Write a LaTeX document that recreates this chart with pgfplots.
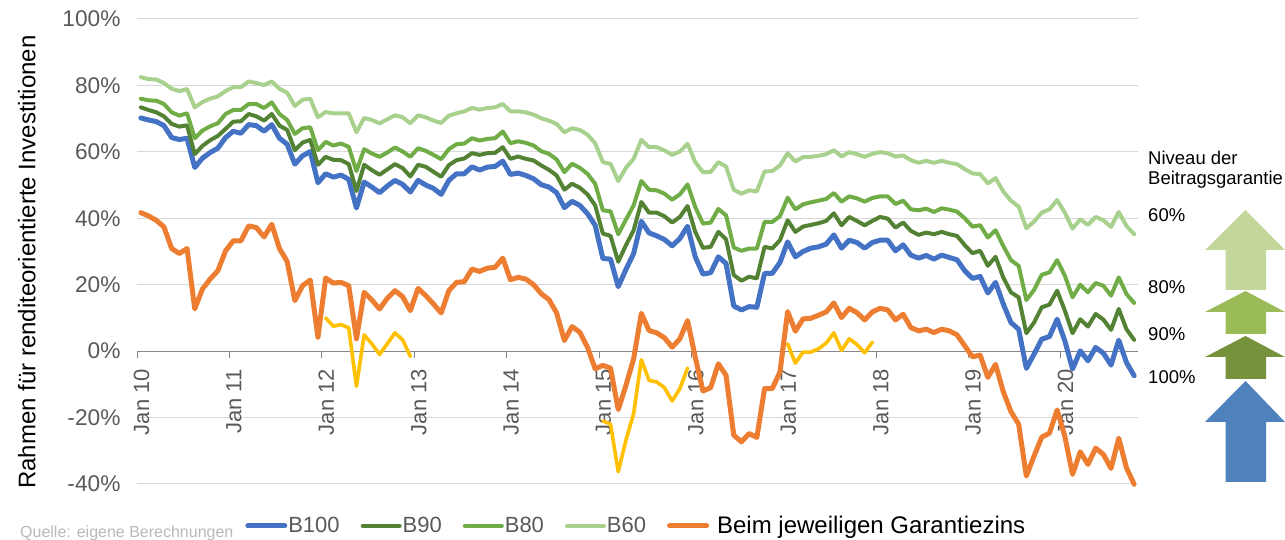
\documentclass[border=0pt]{standalone}
\usepackage{fontspec}
\setmainfont{Liberation Sans}
\usepackage{pgfplots}
\usepackage{pgfplotstable}
\pgfplotsset{compat=1.18}

\definecolor{cB100}{HTML}{4472C4}
\definecolor{cB90}{HTML}{548235}
\definecolor{cB80}{HTML}{70AD47}
\definecolor{cB60}{HTML}{A9D18E}
\definecolor{cGar}{HTML}{ED7D31}
\definecolor{cGelb}{HTML}{FFC000}
\definecolor{labelgrey}{HTML}{595959}
\definecolor{a60}{HTML}{C3D69B}
\definecolor{a80}{HTML}{9BBB59}
\definecolor{a90}{HTML}{76923C}
\definecolor{a100}{HTML}{4F81BD}

% monthly values, month 0 = Jan 10
\pgfplotstableread{
i b100 b90 b80 b60 gar
0 70.2 73.4 76.0 82.5 41.7
1 69.6 72.6 75.5 81.9 40.7
2 69.1 71.9 75.4 81.8 39.4
3 67.9 70.7 74.4 80.7 37.4
4 64.3 68.4 71.9 79.0 30.9
5 63.7 67.6 70.9 78.3 29.4
6 64.1 68.0 71.6 78.9 30.9
7 55.3 59.3 64.1 73.4 12.7
8 58.1 61.8 66.4 75.0 18.7
9 59.8 63.5 67.7 76.0 21.7
10 61.1 64.8 68.6 76.7 24.2
11 64.3 66.9 71.4 78.3 30.2
12 66.2 69.1 72.6 79.5 33.2
13 65.6 69.2 72.6 79.5 33.2
14 68.2 71.4 74.4 81.2 37.7
15 67.9 70.7 74.4 80.7 37.2
16 66.2 69.4 73.2 80.1 34.4
17 68.2 71.4 74.9 81.2 38.2
18 64.1 67.9 71.4 79.0 30.9
19 62.3 66.6 69.6 77.8 27.0
20 56.3 60.5 65.4 73.8 15.2
21 58.8 62.8 67.1 75.7 19.7
22 60.1 63.6 67.4 76.0 21.4
23 50.7 56.1 60.5 70.4 4.2
24 53.4 58.5 63.0 72.0 22.0
25 52.4 57.6 61.9 71.6 20.5
26 53.0 57.5 62.5 71.6 20.7
27 51.7 56.3 61.5 71.6 19.7
28 43.1 48.2 54.2 65.9 3.7
29 50.9 56.1 60.8 70.2 17.7
30 49.4 54.5 59.5 69.6 15.4
31 47.7 53.1 58.5 68.6 12.7
32 49.7 54.7 59.8 69.8 15.9
33 51.4 56.3 61.3 71.0 18.2
34 50.2 55.1 60.1 70.4 16.4
35 47.9 52.6 58.5 68.6 12.2
36 51.4 56.1 61.1 71.0 18.9
37 50.0 55.5 60.3 70.4 16.7
38 49.0 54.0 59.1 69.4 14.2
39 47.2 52.5 57.8 68.7 11.5
40 51.4 56.0 60.8 70.9 18.2
41 53.4 57.5 62.3 71.6 20.7
42 53.4 58.0 62.5 72.2 20.9
43 55.5 59.6 64.1 73.2 24.7
44 54.5 59.1 63.4 72.7 24.0
45 55.4 59.6 63.9 73.2 25.0
46 55.6 59.7 64.1 73.4 25.2
47 57.2 61.4 66.1 74.4 28.0
48 53.2 57.9 62.6 72.2 21.5
49 53.6 58.6 63.2 72.2 22.2
50 52.9 57.9 62.7 71.9 21.7
51 51.9 57.4 61.9 71.2 20.0
52 50.1 55.9 60.2 70.1 17.3
53 49.4 54.6 59.4 69.4 15.5
54 47.7 52.9 57.7 68.4 11.5
55 43.2 48.6 53.9 65.9 3.2
56 45.1 50.4 56.4 67.1 7.4
57 43.9 49.2 55.2 66.6 5.7
58 41.4 47.2 53.4 65.2 1.2
59 37.9 43.9 50.4 62.6 -5.3
60 27.9 35.4 42.4 56.9 -4.3
61 27.7 34.7 42.1 56.4 -5.1
62 19.4 26.9 35.2 51.2 -17.6
63 24.6 31.9 39.6 55.2 -10.3
64 29.4 36.4 43.9 57.9 -2.3
65 39.1 44.9 51.2 63.6 11.4
66 35.6 41.7 48.6 61.4 6.2
67 34.7 41.7 48.4 61.4 5.5
68 33.6 40.6 47.4 60.4 4.0
69 31.7 38.7 45.6 59.1 1.2
70 33.9 40.4 47.2 60.1 3.7
71 37.6 43.7 50.2 62.4 9.2
72 28.4 35.9 43.4 56.9 -1.8
73 23.2 31.1 38.4 53.9 -12.0
74 23.6 31.4 38.7 53.9 -11.0
75 28.4 35.9 42.8 56.9 -3.8
76 26.4 33.7 40.9 55.6 -7.3
77 13.6 22.9 31.2 48.6 -25.3
78 12.4 21.2 30.2 47.4 -27.3
79 13.4 22.4 30.9 48.4 -24.8
80 13.2 21.9 30.9 48.1 -26.0
81 23.4 31.4 38.9 54.1 -11.3
82 23.4 30.9 38.9 54.2 -11.3
83 26.7 33.4 40.6 55.9 -6.3
84 32.9 39.4 46.2 59.6 11.9
85 28.4 35.9 42.7 57.1 6.0
86 30.0 37.5 44.2 58.4 9.7
87 31.0 38.0 44.8 58.5 9.9
88 31.4 38.5 45.3 58.8 10.8
89 32.2 39.2 45.8 59.3 11.8
90 35.0 41.5 47.6 60.5 14.5
91 31.0 37.9 45.0 58.6 10.1
92 33.4 40.4 46.6 59.9 12.9
93 32.7 39.2 46.0 59.3 11.6
94 31.0 37.9 45.0 58.5 9.4
95 32.7 39.2 46.1 59.4 11.8
96 33.4 40.4 46.6 59.9 12.9
97 33.4 39.9 46.6 59.6 12.4
98 30.2 37.2 44.3 58.6 9.4
99 32.0 38.7 45.3 58.9 11.1
100 28.9 36.2 42.7 57.5 7.1
101 28.0 35.0 42.4 56.7 6.1
102 28.8 35.7 42.9 57.3 6.6
103 27.7 35.2 41.9 56.7 5.6
104 28.9 35.9 43.0 57.3 6.6
105 28.2 35.2 42.6 56.7 6.1
106 27.5 34.7 42.0 56.3 4.9
107 24.2 31.9 40.0 54.8 1.6
108 21.9 29.5 37.5 53.5 -1.7
109 22.5 30.2 37.9 53.3 -1.2
110 17.5 25.7 34.2 50.5 -7.9
111 20.7 28.4 36.4 52.1 -4.0
112 14.2 22.2 31.7 48.1 -12.2
113 8.6 17.7 27.4 45.3 -18.2
114 6.6 16.2 25.7 43.5 -22.0
115 -5.2 5.4 15.4 37.0 -37.6
116 -0.9 8.6 18.4 39.0 -31.6
117 3.6 13.2 23.0 41.7 -25.9
118 4.4 14.0 23.7 42.7 -24.7
119 9.6 18.2 27.4 45.5 -17.7
120 3.1 12.2 22.7 41.7 -25.7
121 -5.4 5.4 16.2 36.9 -37.1
122 0.1 9.6 20.0 39.7 -30.3
123 -2.9 7.4 17.7 38.0 -34.1
124 1.1 11.2 20.5 40.4 -29.2
125 -0.6 9.5 19.7 39.4 -31.1
126 -4.2 6.4 16.7 37.4 -35.3
127 3.3 12.7 22.2 41.9 -26.2
128 -3.4 6.6 17.2 37.7 -35.1
129 -7.4 3.4 14.5 35.2 -40.1
}\rahmen

\begin{document}
\begin{tikzpicture}[x=1pt,y=1pt]
\begin{axis}[
  set layers,
  at={(137pt,56pt)}, anchor=south west,
  scale only axis, width=1001pt, height=465pt,
  xmin=-0.5, xmax=129.5, ymin=-40, ymax=100,
  clip=false,
  axis x line*=middle,
  axis y line*=left,
  hide obscured x ticks=false,
  y axis line style={draw=none},
  x axis line style={draw=black!47, line width=1pt, -},
  xtick={-0.5,11.5,23.5,35.5,47.5,59.5,71.5,83.5,95.5,107.5,119.5},
  xticklabels={Jan 10,Jan 11,Jan 12,Jan 13,Jan 14,Jan 15,Jan 16,Jan 17,Jan 18,Jan 19,Jan 20},
  ytick={-40,-20,0,20,40,60,80,100},
  yticklabels={-40\%,-20\%,0\%,20\%,40\%,60\%,80\%,100\%},
  tick align=outside,
  major tick length=7pt,
  xtick style={draw=black!47, line width=1pt},
  ytick style={draw=none},
  ymajorgrids,
  grid style={draw=black!15, line width=1pt},
  xticklabel style={rotate=90, anchor=east, xshift=-7.5pt, yshift=-4.5pt, font=\fontsize{22}{24}\selectfont, text=labelgrey},
  yticklabel style={font=\fontsize{22.7}{24}\selectfont, text=labelgrey, xshift=-6pt},
  ylabel={Rahmen für renditeorientierte Investitionen},
  every axis y label/.style={at={(axis description cs:-0.11,0.477)}, rotate=90, anchor=center, font=\fontsize{24}{26}\selectfont, text=black},
  legend columns=5,
  legend style={at={(axis description cs:0.108,-0.09)}, anchor=west, draw=none, fill=none, inner xsep=0pt, inner ysep=0pt,
    font=\fontsize{22}{24}\selectfont,
    /tikz/every odd column/.append style={column sep=-1pt},
    /tikz/every even column/.append style={column sep=19pt}},
  legend cell align=left,
  legend image code/.code={\draw[#1] (2.5pt,0pt) -- (39.5pt,0pt);},
  every axis plot/.append style={line join=round, line cap=round},
]
\addplot[cGelb, line width=3.6pt, forget plot] coordinates {
  (24,10.0) (25,7.5) (26,8.0) (27,7.0) (28,-10.6) (29,4.9) (30,2.2) (31,-1.0) (32,2.2) (33,5.5) (34,3.4) (35,-1.6)};
\addplot[cGelb, line width=3.6pt, forget plot] coordinates {
  (60,-21.0) (61,-22.0) (62,-36.3) (63,-26.8) (64,-18.8) (65,-2.6) (66,-8.8) (67,-9.3) (68,-11.0) (69,-15.0) (70,-11.3) (71,-5.1)};
\addplot[cGelb, line width=3.6pt, forget plot] coordinates {
  (84,2.2) (85,-3.6) (86,-0.3) (87,-0.3) (88,0.7) (89,2.4) (90,5.5) (91,0.2) (92,3.7) (93,2.0) (94,-0.5) (95,2.7)};
\addplot[cB100, line width=5pt] table[x=i, y=b100] {\rahmen};
\addlegendentry{\textcolor{labelgrey}{B100}}
\addplot[cB90, line width=4pt] table[x=i, y=b90] {\rahmen};
\addlegendentry{\textcolor{labelgrey}{B90}}
\addplot[cB80, line width=4pt] table[x=i, y=b80] {\rahmen};
\addlegendentry{\textcolor{labelgrey}{B80}}
\addplot[cB60, line width=4pt] table[x=i, y=b60] {\rahmen};
\addlegendentry{\textcolor{labelgrey}{B60}}
\addplot[cGar, line width=5pt] table[x=i, y=gar] {\rahmen};
\addlegendentry{\hspace{7pt}\fontsize{24}{26}\selectfont Beim jeweiligen Garantiezins}
\end{axis}

% guarantee level arrows, y measured from the picture's bottom
\fill[a60] (1245.5,330) -- (1285,290) -- (1266,290) -- (1266,250) -- (1225.5,250) -- (1225.5,290) -- (1205,290) -- cycle;
\fill[a80] (1245.5,249) -- (1285,228) -- (1266,228) -- (1266,206) -- (1225.5,206) -- (1225.5,228) -- (1205,228) -- cycle;
\fill[a90] (1245.5,204) -- (1285,183) -- (1266,183) -- (1266,161) -- (1225.5,161) -- (1225.5,183) -- (1205,183) -- cycle;
\fill[a100] (1245.5,159) -- (1285,118) -- (1266,118) -- (1266,58) -- (1225.5,58) -- (1225.5,118) -- (1205,118) -- cycle;

\begin{scope}[every node/.style={anchor=west, inner sep=0pt, font=\fontsize{18.5}{22}\selectfont}]
\node at (1148,382) {Niveau der};
\node at (1148,360) {Beitragsgarantie};
\node at (1148,325) {60\%};
\node at (1148,253) {80\%};
\node at (1148,206) {90\%};
\node at (1148,163) {100\%};
\end{scope}
\node[anchor=west, inner sep=0pt, text=black!28, font=\fontsize{16}{18}\selectfont] at (20,7) {Quelle: eigene Berechnungen};
\pgfresetboundingbox
\path[use as bounding box] (0,0) rectangle (1285,540);
\end{tikzpicture}
\end{document}
